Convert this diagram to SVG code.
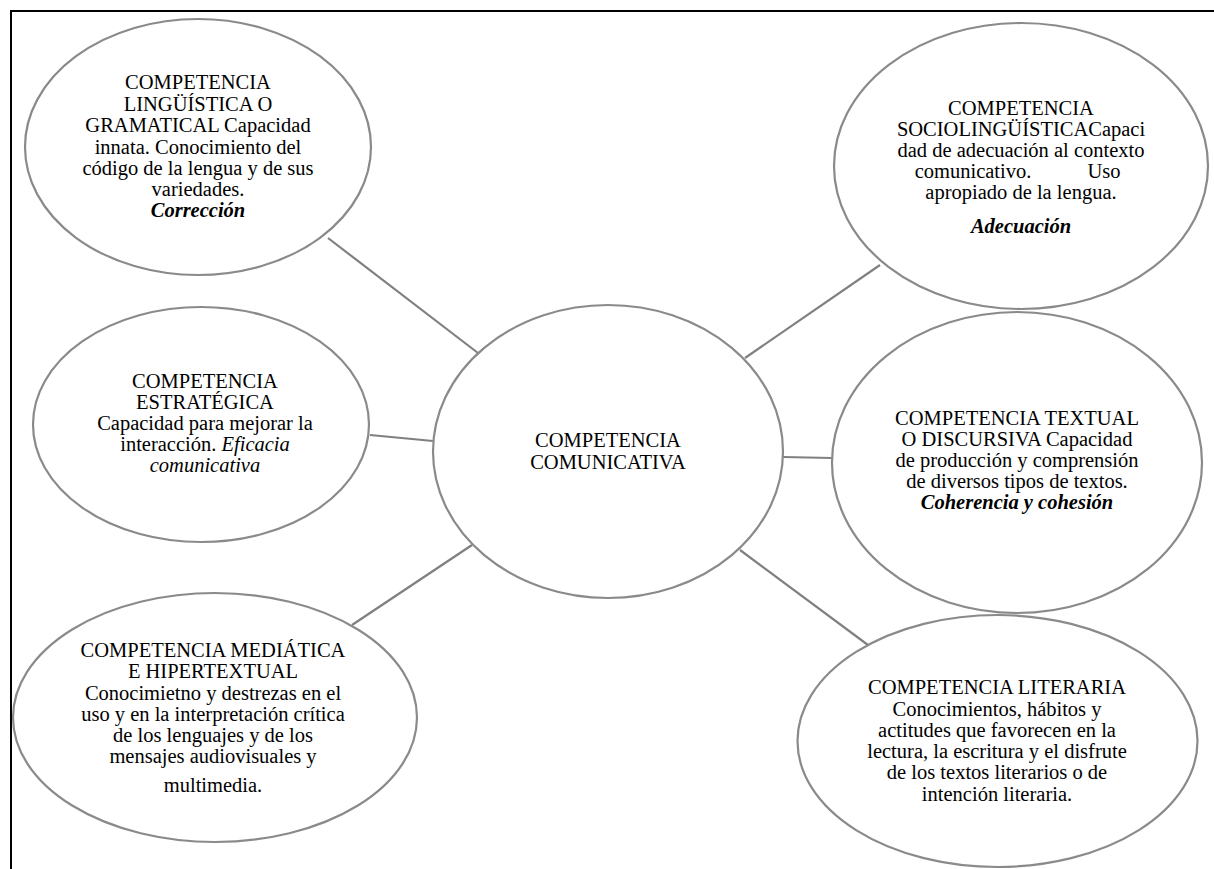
<svg xmlns="http://www.w3.org/2000/svg" width="1214" height="869" viewBox="0 0 1214 869">
<style>
.bg{fill:#ffffff}
.frame{stroke:#000;stroke-width:2;fill:none}
.node ellipse{fill:#fff;stroke:#8a8a8a;stroke-width:2.2}
.conn line{stroke:#808080;stroke-width:2.2}
text{font-family:"Liberation Serif","Times New Roman",serif;font-size:20.5px;fill:#000;text-anchor:middle}
.bi{font-weight:bold;font-style:italic}
.it{font-style:italic}
</style>
<rect class="bg" x="0" y="0" width="1214" height="869"/>
<g id="frame">
<line class="frame" x1="10" y1="11" x2="1214" y2="11"/>
<line class="frame" x1="11" y1="10" x2="11" y2="869"/>
</g>
<g id="connectors" class="conn">
<line x1="328" y1="238" x2="478" y2="353"/>
<line x1="880" y1="265" x2="745" y2="358"/>
<line x1="370" y1="435" x2="433" y2="441"/>
<line x1="783" y1="457" x2="832" y2="458"/>
<line x1="352" y1="625" x2="472" y2="545"/>
<line x1="740" y1="550" x2="868" y2="645"/>
</g>
<g id="n-linguistica" class="node">
<ellipse cx="198" cy="147" rx="173" ry="128"/>
<text x="198" y="89">COMPETENCIA</text>
<text x="198" y="110.5">LINGÜÍSTICA O</text>
<text x="198" y="132">GRAMATICAL Capacidad</text>
<text x="198" y="153.5">innata. Conocimiento del</text>
<text x="198" y="175">código de la lengua y de sus</text>
<text x="198" y="196">variedades.</text>
<text x="198" y="217" class="bi">Corrección</text>
</g>
<g id="n-socio" class="node">
<ellipse cx="1021" cy="166" rx="187" ry="143"/>
<text x="1021" y="115">COMPETENCIA</text>
<text x="1021" y="136">SOCIOLINGÜÍSTICACapaci</text>
<text x="1021" y="157">dad de adecuación al contexto</text>
<text y="178"><tspan x="973">comunicativo.</tspan><tspan x="1104">Uso</tspan></text>
<text x="1021" y="199">apropiado de la lengua.</text>
<text x="1021" y="233" class="bi">Adecuación</text>
</g>
<g id="n-estrategica" class="node">
<ellipse cx="201" cy="424.5" rx="168" ry="117.5"/>
<text x="205" y="388">COMPETENCIA</text>
<text x="205" y="409">ESTRATÉGICA</text>
<text x="205" y="430">Capacidad para mejorar la</text>
<text x="205" y="451">interacción. <tspan class="it">Eficacia</tspan></text>
<text x="205" y="472" class="it">comunicativa</text>
</g>
<g id="n-central" class="node">
<ellipse cx="608" cy="451.5" rx="175" ry="146.5"/>
<text x="608" y="447">COMPETENCIA</text>
<text x="608" y="469">COMUNICATIVA</text>
</g>
<g id="n-textual" class="node">
<ellipse cx="1017" cy="462.5" rx="185" ry="150.5"/>
<text x="1017" y="425">COMPETENCIA TEXTUAL</text>
<text x="1017" y="446">O DISCURSIVA Capacidad</text>
<text x="1017" y="467">de producción y comprensión</text>
<text x="1017" y="488">de diversos tipos de textos.</text>
<text x="1017" y="509" class="bi">Coherencia y cohesión</text>
</g>
<g id="n-mediatica" class="node">
<ellipse cx="215" cy="717.5" rx="202" ry="124.5"/>
<text x="213" y="657">COMPETENCIA MEDIÁTICA</text>
<text x="213" y="678">E HIPERTEXTUAL</text>
<text x="213" y="700">Conocimietno y destrezas en el</text>
<text x="213" y="721">uso y en la interpretación crítica</text>
<text x="213" y="742">de los lenguajes y de los</text>
<text x="213" y="763">mensajes audiovisuales y</text>
<text x="213" y="792">multimedia.</text>
</g>
<g id="n-literaria" class="node">
<ellipse cx="997.5" cy="741" rx="200" ry="126"/>
<text x="997" y="694">COMPETENCIA LITERARIA</text>
<text x="997" y="716">Conocimientos, hábitos y</text>
<text x="997" y="737">actitudes que favorecen en la</text>
<text x="997" y="758">lectura, la escritura y el disfrute</text>
<text x="997" y="779">de los textos literarios o de</text>
<text x="997" y="801">intención literaria.</text>
</g>
</svg>
